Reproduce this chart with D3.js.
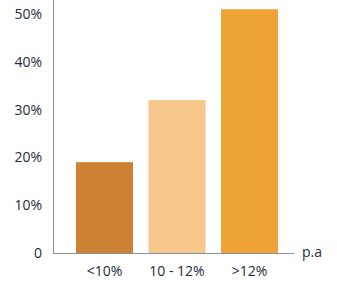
<!DOCTYPE html>
<html>
<head>
<meta charset="utf-8">
<script src="https://cdn.jsdelivr.net/npm/d3@7"></script>
<style>
  body { margin: 0; background: #fff; }
  text { font-family: "Open Sans", Lato, sans-serif; fill: #1e2a3a; }
</style>
</head>
<body>
<div id="chart"></div>
<script>
const categories = ["<10%", "10 - 12%", ">12%"]
const values = [19, 32, 51]
const yTicks = [0, 10, 20, 30, 40, 50]
const barColors = ["#cd8132", "#f7c68b", "#eea337"]

function draw() {
    let dimensions = {
        width: 337,
        height: 282,
        left: 53,
        right: 294,
        top: 14,
        bottom: 253,
    }

    const svg = d3.select('#chart')
        .append("svg")
        .attr("width", dimensions.width)
        .attr("height", dimensions.height)

    // scales
    const x = d3.scaleBand()
        .domain(categories)
        .range([dimensions.left, dimensions.right])
        .paddingInner(0.214)
        .paddingOuter(0.269)
        .align(0.59)

    const y = d3.scaleLinear()
        .domain([0, 50])
        .range([dimensions.bottom, dimensions.top])

    // bars
    svg.selectAll("rect.bar")
        .data(values)
        .join("rect")
        .attr("class", "bar")
        .attr("x", (d, i) => x(categories[i]))
        .attr("width", x.bandwidth())
        .attr("y", d => y(d))
        .attr("height", d => y(0) - y(d))
        .attr("fill", (d, i) => barColors[i])

    // y axis
    const yAxis = svg.append("g")
        .attr("transform", `translate(${dimensions.left},0)`)
        .call(d3.axisLeft(y).tickValues(yTicks).tickSize(0).tickPadding(11)
            .tickFormat(d => d === 0 ? "0" : d + "%"))
    yAxis.select(".domain").remove()
    yAxis.selectAll("text").style("font-size", "14px")

    svg.append("line")
        .attr("x1", dimensions.left + 0.5).attr("x2", dimensions.left + 0.5)
        .attr("y1", 0).attr("y2", dimensions.bottom + 0.5)
        .attr("stroke", "#8c9099")

    // x axis
    const xAxis = svg.append("g")
        .attr("transform", `translate(0,${dimensions.bottom})`)
        .call(d3.axisBottom(x).tickSize(0).tickPadding(13))
    xAxis.select(".domain").remove()
    xAxis.selectAll("text").style("font-size", "14px")

    svg.append("line")
        .attr("x1", dimensions.left).attr("x2", dimensions.right)
        .attr("y1", dimensions.bottom + 0.5).attr("y2", dimensions.bottom + 0.5)
        .attr("stroke", "#8c9099")

    // unit label
    svg.append("text")
        .attr("x", 302)
        .attr("y", dimensions.bottom)
        .attr("dy", "0.32em")
        .style("font-size", "14px")
        .text("p.a")
}
draw()
</script>
</body>
</html>
